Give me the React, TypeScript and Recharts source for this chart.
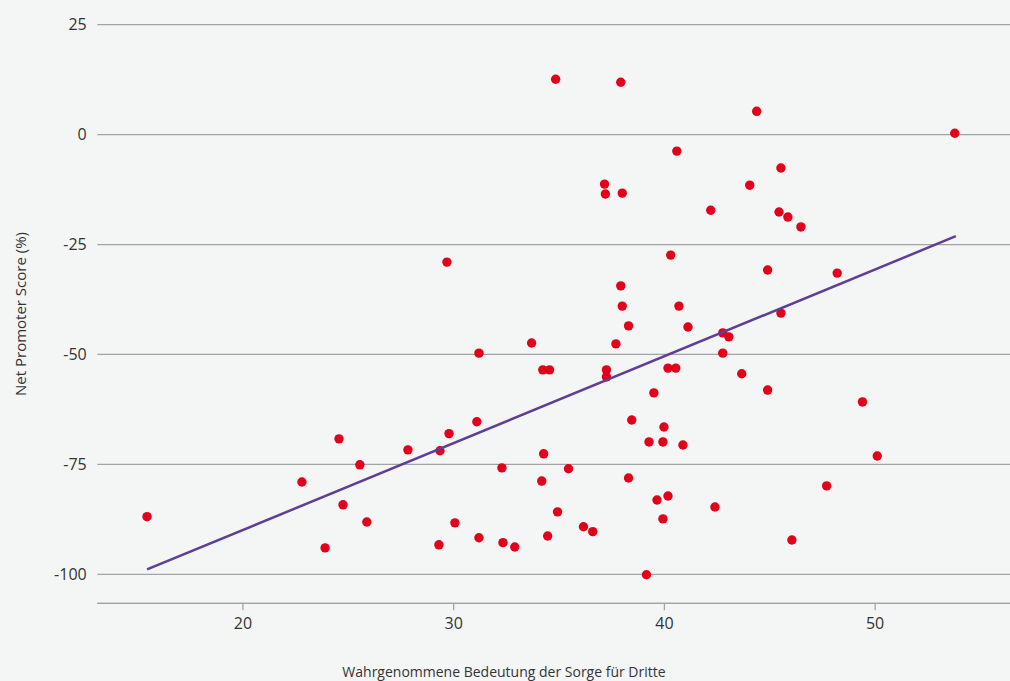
import React from "react";
import { ScatterChart, Scatter, XAxis, YAxis, CartesianGrid } from "recharts";

const xValues = [15.45,22.8,23.9,24.56,24.75,25.55,25.88,27.83,29.3,29.35,29.68,29.78,30.06,31.1,31.2,31.2,32.29,32.34,32.9,33.7,34.23,34.27,34.18,34.46,34.55,34.84,34.93,35.45,36.16,36.6,37.16,37.2,37.25,37.25,37.7,37.93,37.93,38.0,38.0,38.3,38.3,38.45,39.15,39.27,39.5,39.65,39.93,39.98,39.93,40.17,40.17,40.3,40.54,40.59,40.69,40.88,41.12,42.2,42.4,42.77,42.77,43.06,43.67,44.05,44.38,44.9,44.9,45.44,45.53,45.53,45.86,46.05,46.48,47.7,48.2,49.4,50.1,53.78];
const yValues = [-86.9,-79.0,-94.0,-69.2,-84.2,-75.1,-88.1,-71.7,-93.3,-71.9,-29.0,-68.0,-88.3,-65.3,-49.7,-91.7,-75.8,-92.8,-93.8,-47.4,-53.5,-72.6,-78.8,-91.3,-53.5,12.6,-85.8,-76.0,-89.2,-90.3,-11.25,-13.5,-53.5,-55.1,-47.6,11.9,-34.4,-13.3,-39.0,-43.5,-78.1,-64.9,-100.1,-69.9,-58.75,-83.1,-69.9,-66.5,-87.4,-82.2,-53.1,-27.4,-53.1,-3.75,-39.0,-70.6,-43.75,-17.2,-84.7,-45.1,-49.7,-46.0,-54.4,-11.5,5.3,-30.8,-58.1,-17.6,-7.6,-40.6,-18.75,-92.2,-21.0,-79.9,-31.5,-60.8,-73.1,0.3];
const trendX = [15.45, 53.83];
const trendY = [-98.9, -23.1];
const xTicks = [20, 30, 40, 50];
const yTicks = [-100, -75, -50, -25, 0, 25];
const xLabel = "Wahrgenommene Bedeutung der Sorge für Dritte";
const yLabel = "Net Promoter Score (%)";

const points = xValues.map((x, i) => ({ x, y: yValues[i] }));
const trend = trendX.map((x, i) => ({ x, y: trendY[i] }));

const FONT = "'Open Sans', sans-serif";
const TEXT = "#333333";
const GRID = "#a3a3a3";

export default function App() {
  return (
    <div style={{ position: "absolute", left: 0, top: 0, width: 1010, height: 681, background: "#f4f6f6" }}>
      <ScatterChart width={1010} height={681} margin={{ top: 24.7, right: 0, bottom: 0, left: 0 }} style={{ fontFamily: FONT }}>
        <CartesianGrid horizontal vertical={false} stroke={GRID} strokeWidth={1.3} />
        <XAxis
          type="number"
          dataKey="x"
          domain={[13.09, 56.4]}
          ticks={xTicks}
          allowDataOverflow
          height={77.7}
          stroke={GRID}
          strokeWidth={1.3}
          tickSize={7}
          tickMargin={7.7}
          tick={{ fill: TEXT, fontSize: 16, fontFamily: FONT }}
          label={() => (
            <text x={504} y={677} textAnchor="middle" fill={TEXT} fontSize={14} fontFamily={FONT}>{xLabel}</text>
          )}
        />
        <YAxis
          type="number"
          dataKey="y"
          domain={[-106.6, 25]}
          ticks={yTicks}
          allowDataOverflow
          width={97.3}
          axisLine={false}
          tickLine={false}
          tickSize={0}
          tickMargin={10.6}
          tick={{ fill: TEXT, fontSize: 16, fontFamily: FONT }}
          label={() => (
            <text x={20} y={314} textAnchor="middle" dominantBaseline="central" transform="rotate(-90 20 314)" fill={TEXT} fontSize={15} fontFamily={FONT}>{yLabel}</text>
          )}
        />
        <Scatter data={points} fill="#e2001a" isAnimationActive={false} shape={(p: any) => <circle cx={p.cx} cy={p.cy} r={4.7} fill="#e2001a" />} />
        <Scatter data={trend} line={{ stroke: "#5e3e96", strokeWidth: 2.5 }} shape={() => null} isAnimationActive={false} />
      </ScatterChart>
    </div>
  );
}
